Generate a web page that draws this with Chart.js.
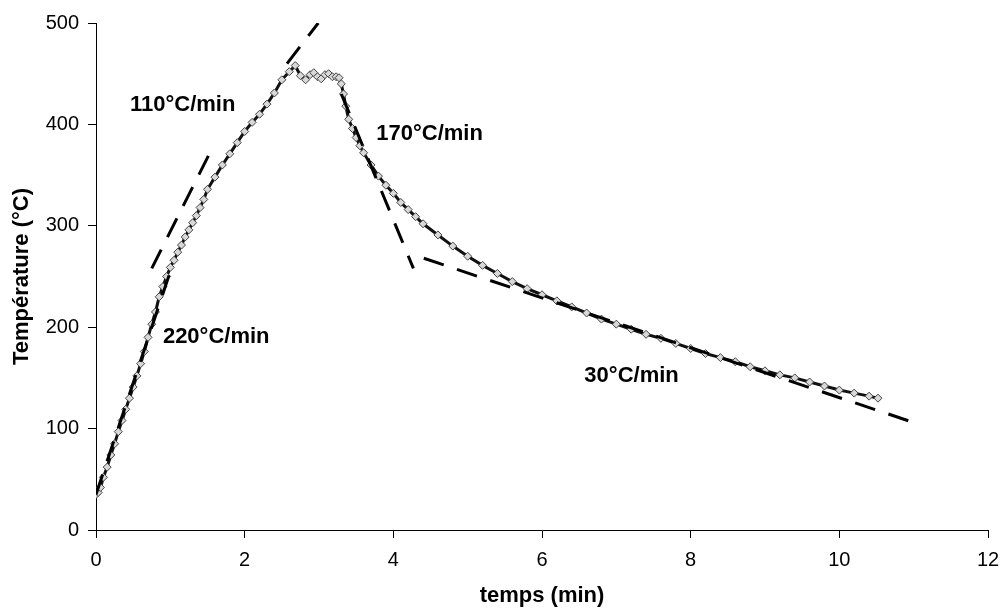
<!DOCTYPE html>
<html>
<head>
<meta charset="utf-8">
<script src="https://cdn.jsdelivr.net/npm/chart.js@4"></script>
<style>
  html, body { margin: 0; padding: 0; background: #fff; }
  #wrap { width: 1001px; height: 609px; position: relative; }
</style>
</head>
<body>
<div id="wrap"><canvas id="c" width="1001" height="609"></canvas></div>
<script>
// ---- Data ----
const timeMin = [0.00,0.03,0.06,0.10,0.15,0.20,0.25,0.30,0.35,0.40,0.45,0.50,0.55,0.60,0.65,0.70,0.75,0.80,0.85,0.90,0.95,1.00,1.05,1.10,1.15,1.20,1.25,1.30,1.35,1.40,1.45,1.50,1.60,1.70,1.80,1.90,2.00,2.10,2.20,2.30,2.40,2.50,2.60,2.68,2.75,2.82,2.88,2.93,2.98,3.03,3.08,3.13,3.18,3.23,3.27,3.30,3.33,3.36,3.40,3.45,3.50,3.55,3.60,3.70,3.80,3.90,4.00,4.10,4.20,4.30,4.40,4.60,4.80,5.00,5.20,5.40,5.60,5.80,6.00,6.20,6.40,6.60,6.80,7.00,7.20,7.40,7.60,7.80,8.00,8.20,8.40,8.60,8.80,9.00,9.20,9.40,9.60,9.80,10.00,10.20,10.40,10.52];
const tempC   = [35,37,42,52,62,74,85,97,108,119,130,141,152,164,176,190,203,215,230,240,250,259,266,274,281,289,296,303,310,318,326,336,348,360,371,382,393,402,410,420,431,444,452,458,448,444,449,451,447,445,449,450,447,447,446,440,430,418,405,396,387,379,372,360,349,340,332,323,316,309,302,291,280,270,261,253,245,238,232,226,220,214,208,203,198,193,189,184,179,174,170,166,161,157,153,150,146,142,138,135,132,130];

// dashed rate lines
const fit220X = [0, 1.0];        const fit220Y = [35, 255];
const fit110aX = [0.75, 1.58];   const fit110aY = [258, 379];
const fit110bX = [2.57, 2.99];   const fit110bY = [460, 500];
const fit170X = [3.30, 4.27];    const fit170Y = [430, 258];
const fit30X  = [4.41, 11.0];    const fit30Y  = [268, 106];

// axis ticks
const xTicks = [0, 2, 4, 6, 8, 10, 12];
const yTicks = [0, 100, 200, 300, 400, 500];

// rate labels
const rateLabels = ['110°C/min', '220°C/min', '170°C/min', '30°C/min'];
const rateLabelX = [0.457, 0.90, 3.77, 6.57];
const rateLabelY = [419, 190, 391, 152];

const xTitle = 'temps (min)';
const yTitle = 'Température (°C)';

const FONT = "'Liberation Sans', Arial, sans-serif";

function pts(xs, ys) { return xs.map((x, i) => ({ x: x, y: ys[i] })); }

function dashed(xs, ys) {
  return {
    data: pts(xs, ys),
    showLine: true,
    borderColor: '#000',
    borderWidth: 3,
    borderDash: [21, 14],
    pointRadius: 0,
    pointHoverRadius: 0,
    fill: false,
    tension: 0
  };
}

const labelPlugin = {
  id: 'rateLabels',
  afterDatasetsDraw(chart) {
    const ctx = chart.ctx;
    const xs = chart.scales.x, ys = chart.scales.y;
    ctx.save();
    ctx.font = 'bold 22px ' + FONT;
    ctx.fillStyle = '#000';
    ctx.textAlign = 'left';
    ctx.textBaseline = 'middle';
    rateLabels.forEach((t, i) => {
      ctx.fillText(t, xs.getPixelForValue(rateLabelX[i]), ys.getPixelForValue(rateLabelY[i]));
    });
    ctx.restore();
  }
};

new Chart(document.getElementById('c'), {
  type: 'scatter',
  data: {
    datasets: [
      dashed(fit220X, fit220Y),
      dashed(fit110aX, fit110aY),
      dashed(fit110bX, fit110bY),
      dashed(fit170X, fit170Y),
      dashed(fit30X, fit30Y),
      {
        data: pts(timeMin, tempC),
        showLine: true,
        borderColor: '#111',
        borderWidth: 3,
        pointStyle: 'rectRot',
        pointRadius: 4,
        pointBorderWidth: 1,
        pointBorderColor: '#444',
        pointBackgroundColor: '#d8d8d8',
        tension: 0
      }
    ]
  },
  options: {
    responsive: false,
    animation: false,
    devicePixelRatio: 1,
    layout: { padding: { top: 23, right: 0, bottom: 0, left: 0 } },
    plugins: { legend: { display: false }, tooltip: { enabled: false } },
    scales: {
      x: {
        type: 'linear',
        min: 0, max: 12,
        afterBuildTicks: s => { s.ticks = xTicks.map(v => ({ value: v })); },
        afterFit: s => { s.height = 79; s.paddingRight = 13; s.paddingLeft = 0; },
        grid: { drawOnChartArea: false, drawTicks: true, tickLength: 8, color: '#000', lineWidth: 1 },
        border: { color: '#000', width: 1 },
        ticks: { color: '#000', font: { family: FONT, size: 20 }, padding: 10, maxRotation: 0 },
        title: { display: true, text: xTitle, color: '#000', font: { family: FONT, size: 22, weight: 'bold' }, padding: { top: 0, bottom: 0 } }
      },
      y: {
        type: 'linear',
        min: 0, max: 500,
        afterBuildTicks: s => { s.ticks = yTicks.map(v => ({ value: v })); },
        afterFit: s => { s.width = 96; },
        grid: { drawOnChartArea: false, drawTicks: true, tickLength: 8, color: '#000', lineWidth: 1 },
        border: { color: '#000', width: 1 },
        ticks: { color: '#000', font: { family: FONT, size: 20 }, padding: 9 },
        title: { display: true, text: yTitle, color: '#000', font: { family: FONT, size: 22, weight: 'bold' }, padding: { top: 9, bottom: 0 } }
      }
    }
  },
  plugins: [labelPlugin]
});
</script>
</body>
</html>
